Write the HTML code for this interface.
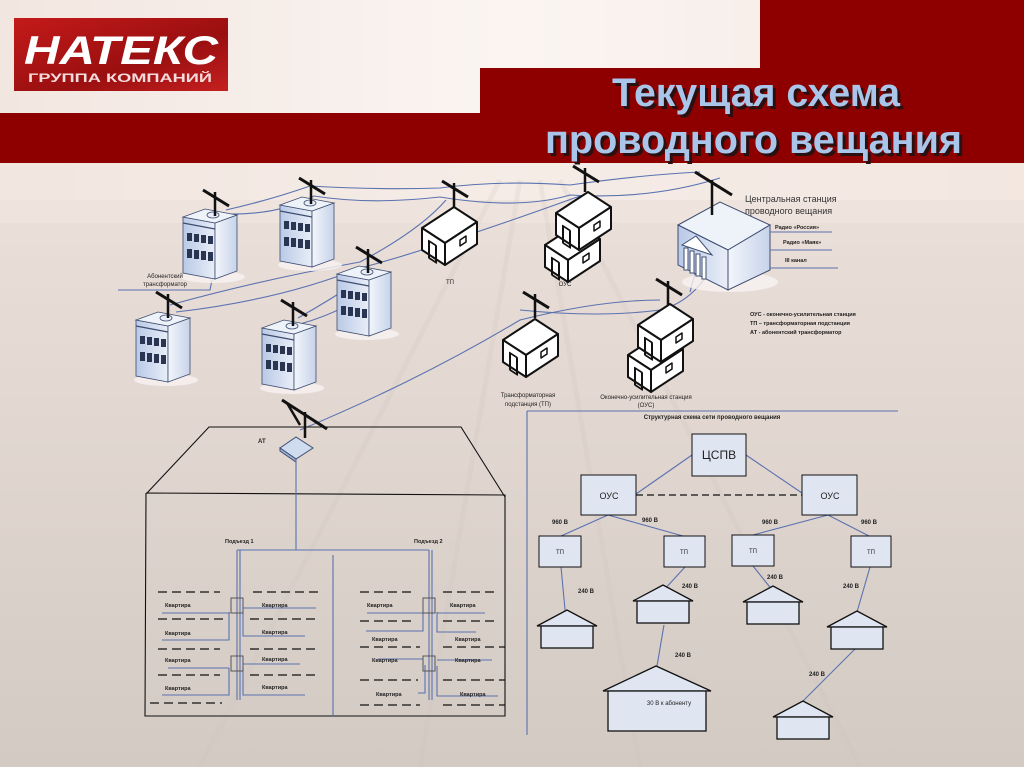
<!DOCTYPE html>
<html><head><meta charset="utf-8"><style>
html,body{margin:0;padding:0;width:1024px;height:767px;overflow:hidden;background:#d8cfc8;}
svg{display:block;font-family:"Liberation Sans","Noto Sans CJK SC",sans-serif;}
</style></head><body>
<svg width="1024" height="767" viewBox="0 0 1024 767" xmlns="http://www.w3.org/2000/svg">
<defs>
<linearGradient id="bg" x1="0" y1="0" x2="0" y2="1">
<stop offset="0" stop-color="#f6ebe6"/><stop offset="0.35" stop-color="#e8dcd6"/><stop offset="1" stop-color="#d3cac4"/>
</linearGradient>
<linearGradient id="top" x1="0" y1="0" x2="1" y2="0">
<stop offset="0" stop-color="#f2e6e0"/><stop offset="0.5" stop-color="#fbf5f2"/><stop offset="1" stop-color="#f4e8e2"/>
</linearGradient>
<linearGradient id="logo" x1="0" y1="0" x2="1" y2="1">
<stop offset="0" stop-color="#c41a1a"/><stop offset="0.6" stop-color="#9a0f10"/><stop offset="1" stop-color="#c52020"/>
</linearGradient>
<linearGradient id="face" x1="0" y1="0" x2="1" y2="0">
<stop offset="0" stop-color="#b9c9e6"/><stop offset="1" stop-color="#e9eef8"/>
</linearGradient>
<linearGradient id="side" x1="0" y1="0" x2="1" y2="0">
<stop offset="0" stop-color="#f3f6fb"/><stop offset="1" stop-color="#c7d3ea"/>
</linearGradient>
<g id="bld">
<ellipse cx="30" cy="66" rx="32" ry="6" fill="#f7f3f2" opacity="0.8"/>
<polygon points="0,6 32,12 32,68 0,62" fill="url(#face)" stroke="#3d4d70" stroke-width="0.8"/>
<polygon points="32,12 54,4 54,60 32,68" fill="url(#side)" stroke="#3d4d70" stroke-width="0.8"/>
<polygon points="0,6 22,-2 54,4 32,12" fill="#eef2f9" stroke="#3d4d70" stroke-width="0.8"/>
<line x1="0" y1="12" x2="32" y2="18" stroke="#3d4d70" stroke-width="1.2"/>
<g fill="#2a3552">
<rect x="4" y="22" width="5" height="8"/><rect x="11" y="23" width="5" height="8"/><rect x="18" y="24" width="5" height="8"/><rect x="25" y="25" width="5" height="8"/>
<rect x="4" y="38" width="5" height="9"/><rect x="11" y="39" width="5" height="9"/><rect x="18" y="40" width="5" height="9"/><rect x="25" y="41" width="5" height="9"/>
</g>
<ellipse cx="30" cy="4" rx="6" ry="3" fill="#e9eef8" stroke="#3d4d70" stroke-width="0.8"/>
</g>
<g id="pole">
<line x1="0" y1="0" x2="0" y2="-24" stroke="#111" stroke-width="2.5"/>
<line x1="-12" y1="-26" x2="14" y2="-10" stroke="#111" stroke-width="3"/>
</g>
<g id="cube" fill="#fff" stroke="#111" stroke-width="2" stroke-linejoin="round">
<polygon points="0,23 32,2 55,17 23,38"/>
<polygon points="0,23 23,38 23,60 0,45"/>
<polygon points="23,38 55,17 55,39 23,60"/>
<rect x="7" y="36" width="7" height="17" fill="none" transform="skewY(33)" transform-origin="7 36"/>
<polygon points="38,35 44,31 44,37 38,41" fill="none" stroke-width="1.5"/>
</g>
<g id="house" fill="#dfe6f2" stroke="#111" stroke-width="1.3">
<polygon points="-30,0 0,-16 30,0"/>
<rect x="-26" y="0" width="52" height="22"/>
</g>
</defs>

<rect width="1024" height="767" fill="url(#bg)"/>
<rect x="0" y="0" width="1024" height="200" fill="url(#top)"/>
<rect x="0" y="163" width="1024" height="60" fill="#f1e6e0" opacity="0.6"/>
<g stroke="#cfc3bc" stroke-width="5" opacity="0.2">
<line x1="500" y1="180" x2="200" y2="767"/><line x1="520" y1="180" x2="420" y2="767"/><line x1="540" y1="180" x2="640" y2="767"/><line x1="560" y1="180" x2="860" y2="767"/>
</g>

<!-- header -->
<rect x="760" y="0" width="264" height="68" fill="#8e0000"/>
<rect x="480" y="68" width="544" height="45" fill="#8e0000"/>
<rect x="0" y="113" width="1024" height="50" fill="#8e0000"/>
<rect x="14" y="18" width="214" height="73" fill="url(#logo)"/>
<text x="24" y="64" font-size="40" font-weight="bold" font-style="italic" fill="#fff" textLength="194" lengthAdjust="spacingAndGlyphs">НАТЕКС</text>
<text x="28" y="82" font-size="12" font-weight="bold" fill="#f4dcdc" textLength="184" lengthAdjust="spacingAndGlyphs">ГРУППА КОМПАНИЙ</text>
<g font-size="40" font-weight="bold">
<text x="615" y="109" fill="#2a1010" textLength="288" lengthAdjust="spacingAndGlyphs">Текущая схема</text>
<text x="612" y="106" fill="#a9c6ea" textLength="288" lengthAdjust="spacingAndGlyphs">Текущая схема</text>
<text x="548" y="156" fill="#2a1010" textLength="417" lengthAdjust="spacingAndGlyphs">проводного вещания</text>
<text x="545" y="153" fill="#a9c6ea" textLength="417" lengthAdjust="spacingAndGlyphs">проводного вещания</text>
</g>

<!-- wires -->
<g fill="none" stroke="#5a72b0" stroke-width="1.1">
<path d="M226 210 Q270 200 310 186 Q380 190 440 188 Q500 180 570 185 Q640 175 700 172"/>
<path d="M226 214 Q280 215 314 196 Q370 205 440 197 Q520 210 570 195 Q650 200 720 178"/>
<path d="M118 290 L210 290 L212 280"/>
<path d="M170 305 Q260 280 360 262 Q420 230 446 200"/>
<path d="M176 312 Q280 300 360 268 Q430 250 580 196"/>
<path d="M298 318 Q330 300 360 280"/>
<path d="M300 324 Q350 310 380 282"/>
<path d="M300 430 Q420 380 520 320 Q600 300 660 300"/>
<path d="M520 310 Q600 318 660 310 Q700 300 720 250"/>
<path d="M690 292 Q700 250 720 220"/>
</g>

<use href="#bld" x="183" y="211"/><use href="#pole" x="215" y="216"/>
<use href="#bld" x="280" y="199"/><use href="#pole" x="311" y="204"/>
<use href="#bld" x="337" y="268"/><use href="#pole" x="368" y="273"/>
<use href="#bld" x="136" y="314"/><use href="#pole" x="168" y="318"/>
<use href="#bld" x="262" y="322"/><use href="#pole" x="293" y="326"/>
<text x="165" y="278" font-size="6" fill="#222" text-anchor="middle">Абонентский</text>
<text x="165" y="286" font-size="6" fill="#222" text-anchor="middle">трансформатор</text>

<use href="#cube" x="422" y="205"/><use href="#pole" x="454" y="207"/>
<text x="450" y="284" font-size="6" fill="#222" text-anchor="middle">ТП</text>
<use href="#cube" x="545" y="222"/><use href="#cube" x="556" y="190"/><use href="#pole" x="585" y="192"/>
<text x="565" y="286" font-size="6" fill="#222" text-anchor="middle">ОУС</text>
<use href="#cube" x="503" y="317"/><use href="#pole" x="535" y="318"/>
<use href="#cube" x="628" y="332"/><use href="#cube" x="638" y="302"/><use href="#pole" x="668" y="305"/>
<text x="528" y="397" font-size="6" fill="#222" text-anchor="middle">Трансформаторная</text>
<text x="528" y="406" font-size="6" fill="#222" text-anchor="middle">подстанция (ТП)</text>
<text x="646" y="399" font-size="6" fill="#222" text-anchor="middle">Оконечно-усилительная станция</text>
<text x="646" y="407" font-size="6" fill="#222" text-anchor="middle">(ОУС)</text>

<ellipse cx="730" cy="282" rx="48" ry="10" fill="#f7f3f2" opacity="0.8"/>
<polygon points="678,225 720,202 770,225 728,250" fill="#eef2f9" stroke="#3d4d70"/>
<polygon points="678,225 728,250 728,290 678,265" fill="url(#face)" stroke="#3d4d70"/>
<polygon points="728,250 770,225 770,270 728,290" fill="url(#side)" stroke="#3d4d70"/>
<g stroke="#3d4d70" fill="#fff"><polygon points="682,245 696,236 712,255"/>
<rect x="684" y="248" width="4" height="22"/><rect x="690" y="251" width="4" height="22"/><rect x="696" y="254" width="4" height="22"/><rect x="702" y="257" width="4" height="22"/></g>
<line x1="712" y1="215" x2="712" y2="180" stroke="#111" stroke-width="2.5"/>
<line x1="695" y1="172" x2="732" y2="195" stroke="#111" stroke-width="3"/>
<text x="745" y="202" font-size="9" fill="#333">Центральная станция</text>
<text x="745" y="214" font-size="9" fill="#333">проводного вещания</text>
<g stroke="#5a72b0"><line x1="770" y1="232" x2="832" y2="232"/><line x1="770" y1="250" x2="832" y2="250"/><line x1="770" y1="268" x2="838" y2="268"/></g>
<g font-size="5.5" font-weight="bold" fill="#222"><text x="775" y="229">Радио «Россия»</text><text x="783" y="244">Радио «Маяк»</text><text x="785" y="262">III канал</text></g>
<g font-size="5.5" font-weight="bold" fill="#222"><text x="750" y="316">ОУС - оконечно-усилительная станция</text><text x="750" y="325">ТП – трансформаторная подстанция</text><text x="750" y="334">АТ - абонентский трансформатор</text></g>

<!-- bottom-left building -->
<g fill="none" stroke="#111" stroke-width="1.1">
<polyline points="147,493 209,427 461,427 505,497"/>
<polyline points="146,493 505,495 505,716 145,716 146,493"/>
</g>
<line x1="287" y1="403" x2="300" y2="425" stroke="#111" stroke-width="2.5"/>
<line x1="282" y1="400" x2="327" y2="429" stroke="#111" stroke-width="3"/>
<line x1="305" y1="412" x2="305" y2="438" stroke="#111" stroke-width="2.5"/>
<polygon points="280,448 296,437 313,448 296,459" fill="#cfdcf0" stroke="#3d4d70"/>
<polygon points="280,448 296,459 296,462 280,451" fill="#9fb3d6" stroke="#3d4d70"/>
<text x="258" y="443" font-size="6" font-weight="bold" fill="#222">АТ</text>
<g fill="none" stroke="#5a72b0" stroke-width="1.1">
<line x1="296" y1="460" x2="296" y2="550"/>
<line x1="237" y1="550" x2="429" y2="550"/>
<line x1="333" y1="555" x2="333" y2="716"/>
<line x1="237" y1="550" x2="237" y2="700"/><line x1="240" y1="550" x2="240" y2="700"/>
<line x1="429" y1="550" x2="429" y2="700"/><line x1="432" y1="550" x2="432" y2="700"/>
<polyline points="162,613 230,613"/><polyline points="162,640 229,640 229,612"/><polyline points="168,668 229,668"/><polyline points="162,695 229,695 229,668"/>
<polyline points="243,608 316,608"/><polyline points="243,612 243,636 305,636"/><polyline points="243,664 300,664"/><polyline points="243,668 243,695 305,695"/>
<polyline points="367,613 423,613"/><polyline points="366,631 423,631 423,612"/><polyline points="378,659 423,659"/><polyline points="418,693 425,693 425,665"/>
<polyline points="437,613 485,613"/><polyline points="437,612 437,632 476,632"/><polyline points="437,660 492,660"/><polyline points="437,666 437,696 498,696"/>
</g>
<g fill="none" stroke="#555" stroke-width="1">
<rect x="231" y="598" width="12" height="15"/><rect x="231" y="656" width="12" height="15"/>
<rect x="423" y="598" width="12" height="15"/><rect x="423" y="656" width="12" height="15"/>
</g>
<g stroke="#111" stroke-width="1.3" stroke-dasharray="9,5">
<line x1="158" y1="592" x2="220" y2="592"/><line x1="253" y1="592" x2="318" y2="592"/>
<line x1="158" y1="619" x2="225" y2="619"/><line x1="250" y1="619" x2="318" y2="619"/>
<line x1="158" y1="649" x2="220" y2="649"/><line x1="250" y1="649" x2="318" y2="649"/>
<line x1="158" y1="675" x2="220" y2="675"/><line x1="250" y1="675" x2="315" y2="675"/>
<line x1="150" y1="703" x2="222" y2="703"/>
<line x1="360" y1="592" x2="412" y2="592"/><line x1="443" y1="592" x2="495" y2="592"/>
<line x1="360" y1="621" x2="414" y2="621"/><line x1="443" y1="621" x2="495" y2="621"/>
<line x1="360" y1="647" x2="420" y2="647"/><line x1="443" y1="647" x2="505" y2="647"/>
<line x1="360" y1="680" x2="418" y2="680"/><line x1="443" y1="680" x2="505" y2="680"/>
<line x1="360" y1="705" x2="420" y2="705"/><line x1="443" y1="705" x2="505" y2="705"/>
</g>
<g font-size="5.5" font-weight="bold" fill="#222">
<text x="225" y="543">Подъезд 1</text><text x="414" y="543">Подъезд 2</text>
<text x="165" y="607">Квартира</text><text x="165" y="635">Квартира</text><text x="165" y="662">Квартира</text><text x="165" y="690">Квартира</text>
<text x="262" y="607">Квартира</text><text x="262" y="634">Квартира</text><text x="262" y="661">Квартира</text><text x="262" y="689">Квартира</text>
<text x="367" y="607">Квартира</text><text x="372" y="641">Квартира</text><text x="372" y="662">Квартира</text><text x="376" y="696">Квартира</text>
<text x="450" y="607">Квартира</text><text x="455" y="641">Квартира</text><text x="455" y="662">Квартира</text><text x="460" y="696">Квартира</text>
</g>

<!-- tree diagram -->
<g stroke="#5a72b0" stroke-width="1.1" fill="none">
<line x1="527" y1="411" x2="898" y2="411"/><line x1="527" y1="411" x2="527" y2="735"/>
<line x1="636" y1="494" x2="692" y2="455"/><line x1="746" y1="455" x2="802" y2="493"/>
<line x1="608" y1="515" x2="561" y2="536"/><line x1="608" y1="515" x2="683" y2="536"/>
<line x1="828" y1="515" x2="753" y2="535"/><line x1="828" y1="515" x2="869" y2="536"/>
<line x1="561" y1="567" x2="566" y2="620"/><line x1="685" y1="567" x2="663" y2="591"/>
<line x1="753" y1="566" x2="773" y2="591"/><line x1="870" y1="567" x2="857" y2="612"/>
<line x1="664" y1="625" x2="657" y2="666"/><line x1="857" y1="647" x2="802" y2="702"/>
</g>
<line x1="636" y1="495" x2="802" y2="495" stroke="#111" stroke-width="1.3" stroke-dasharray="7,4"/>
<g fill="#dfe6f2" stroke="#111" stroke-width="1">
<rect x="692" y="434" width="54" height="42"/>
<rect x="581" y="475" width="55" height="40"/><rect x="802" y="475" width="55" height="40"/>
<rect x="539" y="536" width="42" height="31"/><rect x="664" y="536" width="41" height="31"/>
<rect x="732" y="535" width="42" height="31"/><rect x="851" y="536" width="40" height="31"/>
</g>
<use href="#house" x="567" y="626"/>
<use href="#house" x="663" y="601"/>
<use href="#house" x="773" y="602"/>
<use href="#house" x="857" y="627"/>
<use href="#house" x="803" y="717"/>
<g fill="#dfe6f2" stroke="#111" stroke-width="1.3">
<polygon points="603,691 656,666 711,691"/>
<rect x="608" y="691" width="98" height="40"/>
</g>
<g fill="#222" text-anchor="middle">
<text x="719" y="459" font-size="12">ЦСПВ</text>
<text x="609" y="499" font-size="9">ОУС</text><text x="830" y="499" font-size="9">ОУС</text>
<g font-size="6"><text x="560" y="554">ТП</text><text x="684" y="554">ТП</text><text x="753" y="553">ТП</text><text x="871" y="554">ТП</text></g>
<g font-size="6" font-weight="bold">
<text x="560" y="524">960 В</text><text x="650" y="522">960 В</text><text x="770" y="524">960 В</text><text x="869" y="524">960 В</text>
<text x="586" y="593">240 В</text><text x="690" y="588">240 В</text><text x="775" y="579">240 В</text><text x="851" y="588">240 В</text>
<text x="683" y="657">240 В</text><text x="817" y="676">240 В</text>
<text x="712" y="419">Структурная схема сети проводного вещания</text>
</g>
<text x="669" y="705" font-size="6">30 В к абоненту</text>
</g>
</svg>
</body></html>
